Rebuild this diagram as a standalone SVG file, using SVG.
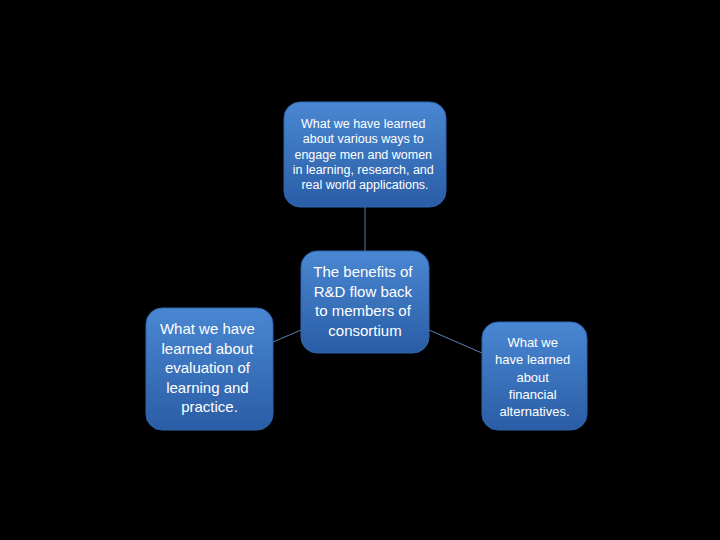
<svg xmlns="http://www.w3.org/2000/svg" width="720" height="540" viewBox="0 0 720 540">
<defs>
<linearGradient id="g" x1="0" y1="0" x2="0" y2="1">
<stop offset="0" stop-color="#4a87d2"/>
<stop offset="1" stop-color="#2a5da6"/>
</linearGradient>
<style>
.box{fill:url(#g);stroke:#2f64ad;stroke-width:1}
.t{fill:#ffffff;font-family:"Liberation Sans",Arial,sans-serif;text-anchor:middle}
.c{stroke:#5a7fb0;stroke-width:1;fill:none}
</style>
</defs>
<rect width="720" height="540" fill="#000000"/>
<g id="connectors">
<line class="c" x1="365" y1="207" x2="365" y2="251"/>
<line class="c" x1="301" y1="330" x2="273" y2="342"/>
<line class="c" x1="429" y1="330" x2="482" y2="353"/>
</g>
<g id="top">
<rect class="box" x="284" y="102" width="162" height="105" rx="16"/>
<text class="t" font-size="12.5">
<tspan x="365" y="128">What we have learned</tspan>
<tspan x="365" y="143">about various ways to</tspan>
<tspan x="365" y="159">engage men and women</tspan>
<tspan x="365" y="174">in learning, research, and</tspan>
<tspan x="365" y="189">real world applications.</tspan>
</text>
</g>
<g id="center">
<rect class="box" x="301" y="251" width="128" height="102" rx="16"/>
<text class="t" font-size="15">
<tspan x="365" y="277">The benefits of</tspan>
<tspan x="365" y="297">R&amp;D flow back</tspan>
<tspan x="365" y="316">to members of</tspan>
<tspan x="365" y="336">consortium</tspan>
</text>
</g>
<g id="left">
<rect class="box" x="146" y="308" width="127" height="122" rx="16"/>
<text class="t" font-size="15">
<tspan x="209.5" y="334">What we have</tspan>
<tspan x="209.5" y="354">learned about</tspan>
<tspan x="209.5" y="373">evaluation of</tspan>
<tspan x="209.5" y="393">learning and</tspan>
<tspan x="209.5" y="412">practice.</tspan>
</text>
</g>
<g id="right">
<rect class="box" x="482" y="322" width="105" height="108" rx="16"/>
<text class="t" font-size="13">
<tspan x="534.5" y="347">What we</tspan>
<tspan x="534.5" y="364">have learned</tspan>
<tspan x="534.5" y="382">about</tspan>
<tspan x="534.5" y="399">financial</tspan>
<tspan x="534.5" y="416">alternatives.</tspan>
</text>
</g>
</svg>
